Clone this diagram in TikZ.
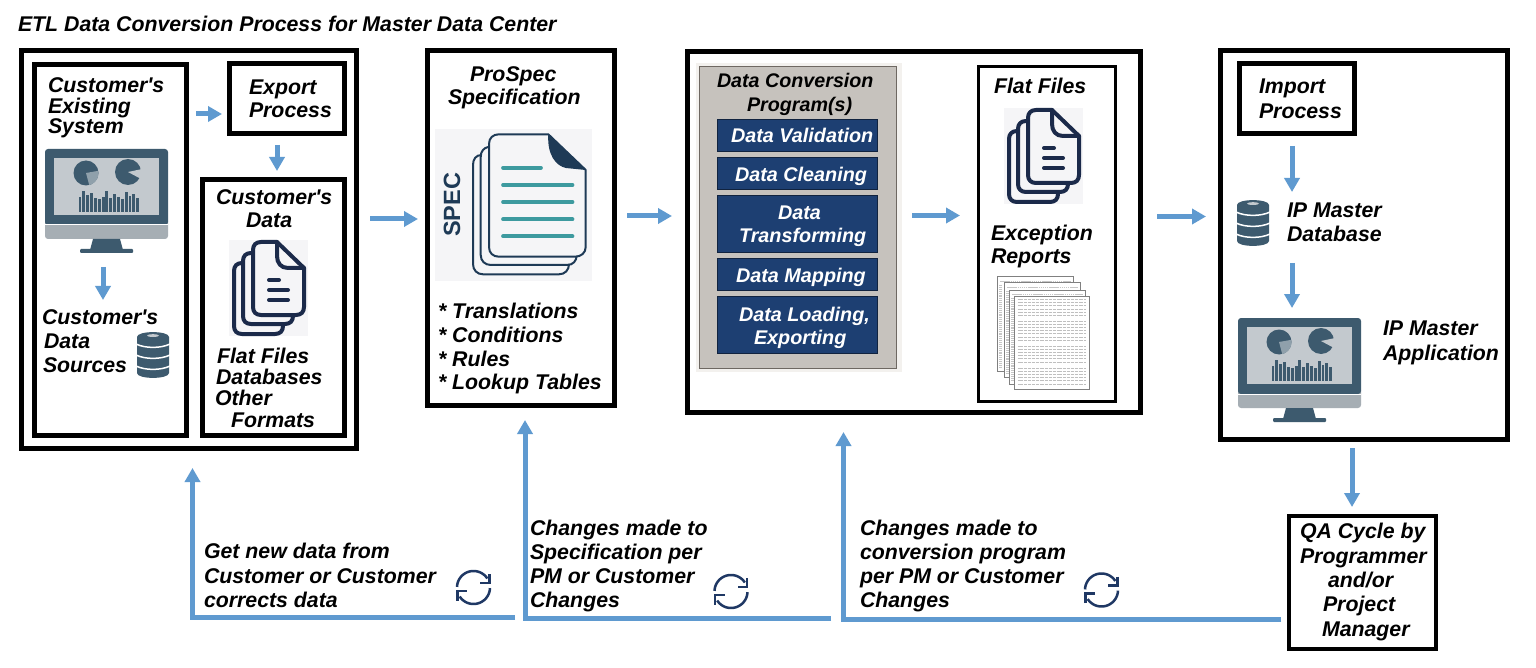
\documentclass[tikz,border=0pt]{standalone}
\usepackage{fontspec}
\setmainfont{Liberation Sans}[Ligatures=TeXOff]
\usetikzlibrary{arrows.meta,fit}
\definecolor{flow}{HTML}{5F9AD0}
\definecolor{slateicon}{HTML}{3D5A6E}
\definecolor{screenicon}{HTML}{C3C9CE}
\definecolor{bandicon}{HTML}{A6AEB4}
\definecolor{wedgeicon}{HTML}{8FA0AB}
\definecolor{navyicon}{HTML}{1B2A4A}
\definecolor{specnavy}{HTML}{1E3A56}
\definecolor{tealline}{HTML}{3D9A9F}
\definecolor{paleicon}{HTML}{F5F5F7}
\definecolor{panelgray}{HTML}{C6C2BD}
\definecolor{panelline}{HTML}{6E6862}
\definecolor{panelhalo}{HTML}{F3F1EE}
\definecolor{barblue}{HTML}{1D3F72}
\definecolor{barline}{HTML}{11233F}
\definecolor{refreshnavy}{HTML}{1F3864}
\newcommand{\lblfont}{\fontsize{21.3}{24}\selectfont\bfseries\itshape}
\newcommand{\barfont}{\fontsize{19.8}{24}\selectfont\bfseries\itshape}
\newcommand{\headfont}{\fontsize{19.7}{24}\selectfont\bfseries\itshape}
\newcommand{\wedgefill}[6]{\fill[#1] (#2,#3) -- plot[domain=#5:#6,samples=16] ({#2+#4*cos(\x)},{#3-#4*sin(\x)}) -- cycle;}
\newcommand{\lbl}[4]{\node[lbl] (#1) at (#2,#3) {#4};}
\newcommand{\wlbl}[4]{\node[lbl,text=white,font=\barfont] (#1) at (#2,#3) {#4};}
\newcommand{\bx}[6][]{\node[fit={(#3,#4)(#5,#6)},inner sep=0pt,outer sep=0pt,draw,#1] (#2) {};}
\tikzset{
  x=1pt,y=-1pt,
  lbl/.style={font=\lblfont,anchor=base west,inner sep=0pt,outer sep=0pt,yshift=-.8pt},
  heavybox/.style={line width=4.6pt,fill=white},
  lightbox/.style={line width=3.4pt,fill=white},
  barbox/.style={fill=barblue,draw=barline,line width=1.4pt},
  flowarrow/.style={draw=flow,line width=5pt,-{Triangle[length=14pt,width=15pt]}},
  monitoricon/.pic={
    \fill[bandicon,rounded corners=3pt] (0,70) rectangle (123,90);
    \fill[slateicon,rounded corners=3pt] (0,0) rectangle (123,76);
    \fill[white] (0,75.5) rectangle (123,76.5);
    \fill[screenicon] (9,9) rectangle (114,66);
    \fill[slateicon] (48,90) -- (75,90) -- (78,101) -- (45,101) -- cycle;
    \fill[slateicon,rounded corners=1pt] (35,100) rectangle (88,104);
    \fill[slateicon] (41,24) circle[radius=12.5];
    \wedgefill{wedgeicon}{41}{24}{12.5}{-75}{10}
    \fill[slateicon] (83,23) circle[radius=13];
    \wedgefill{screenicon}{83}{23}{14}{-28}{12}
    \foreach \i/\h in {0/15,1/21,2/17,3/19,4/14,5/13,6/15,7/21,8/14,9/18,10/15,11/13,12/20,13/16,14/18,15/14}
      \fill[slateicon] ({33.5+\i*3.85},63) rectangle ({36.4+\i*3.85},{63-\h});
  },
  dbicon/.pic={
    \fill[slateicon] (0,5) .. controls (0,-1.5) and (32,-1.5) .. (32,5) -- (32,41) .. controls (32,47.5) and (0,47.5) .. (0,41) -- cycle;
    \fill[screenicon] (16,3.6) ellipse[x radius=6,y radius=1.4];
    \foreach \y in {12,23,34}
      \draw[white,line width=1.5pt] (-1,\y) .. controls (8,{\y+4.5}) and (24,{\y+4.5}) .. (33,\y);
  },
  docicon/.pic={
    \fill[paleicon] (0,0) rectangle (79,96);
    \begin{scope}[navyicon,line width=4pt,line cap=round,line join=round]
    \draw (13,23) .. controls (8,23) and (5,26) .. (5,31) -- (5,86) .. controls (5,91) and (8,94) .. (13,94) -- (46,94) .. controls (51,94) and (54,91) .. (54,86);
    \draw (22,13) .. controls (17,13) and (14,16) .. (14,21) -- (14,76) .. controls (14,81) and (17,84) .. (22,84) -- (56,84) .. controls (61,84) and (64,81) .. (64,76);
    \draw (32,2) -- (48,2) -- (75,28) -- (75,67) .. controls (75,72) and (72,75) .. (67,75) -- (32,75) .. controls (27,75) and (24,72) .. (24,67) -- (24,10) .. controls (24,5) and (27,2) .. (32,2) -- cycle;
    \draw (48,2) -- (48,16) .. controls (48,23) and (52,28) .. (59,28) -- (75,28);
    \draw (40,40) -- (50,40) (40,50) -- (59,50) (40,60) -- (59,60);
    \end{scope}
  },
  refreshicon/.pic={
    \draw[refreshnavy,line width=2.5pt] plot[domain=178:33,samples=30] ({16.5*cos(\x)},{-16.5*sin(\x)});
    \draw[refreshnavy,line width=2.5pt] plot[domain=-2:-147,samples=30] ({16.5*cos(\x)},{-16.5*sin(\x)});
    \draw[refreshnavy,line width=2.5pt,line join=miter] (16,-13.5) -- (16,-4.5) -- (6.5,-4.5);
    \draw[refreshnavy,line width=2.5pt,line join=miter] (-16,13) -- (-16,3.5) -- (-6.5,3.5);
  },
}
\begin{document}
\begin{tikzpicture}
\useasboundingbox (0,0) rectangle (1536,668);
\fill[white] (0,0) rectangle (1536,668);

% title
\lbl{title}{18}{31}{ETL Data Conversion Process for Master Data Center}

% --- customer block
\bx[heavybox]{custouter}{21.3}{50.3}{356.7}{448.7}
\bx[heavybox]{custsys}{34.3}{64.3}{186.7}{435.7}
\bx[heavybox]{exportbox}{229.3}{63.3}{344.7}{133.7}
\bx[heavybox]{custdata}{202.3}{179.3}{344.7}{435.7}

\lbl{t1a}{48}{92}{Customer's}
\lbl{t1b}{48}{113}{Existing}
\lbl{t1c}{48}{133}{System}
\pic (mon1) at (45,149) {monitoricon};
\lbl{t2a}{42}{324}{Customer's}
\lbl{t2b}{44}{348}{Data}
\lbl{t2c}{43}{372}{Sources}
\pic (db1) at (137,332) {dbicon};
\lbl{t3a}{249}{94}{Export}
\lbl{t3b}{249}{117}{Process}
\lbl{t4a}{216}{204}{Customer's}
\lbl{t4b}{246}{227}{Data}
\pic (doc1) at (229,240) {docicon};
\lbl{t5a}{217}{363}{Flat Files}
\lbl{t5b}{216}{384}{Databases}
\lbl{t5c}{215}{405}{Other}
\lbl{t5d}{231}{427}{Formats}

% --- ProSpec block
\bx[heavybox]{prospec}{427.3}{50.3}{614.7}{405.7}
\lbl{t6a}{470}{81}{ProSpec}
\lbl{t6b}{448}{104}{Specification}
\fill[paleicon] (435,129) rectangle (592,281);
\begin{scope}[specnavy,line width=2pt,line join=round]
  \draw (481.7,155) .. controls (476,155) and (473,159) .. (473,165) -- (473,264) .. controls (473,270) and (477,274.3) .. (483,274.3) -- (559,274.3) .. controls (565,274.3) and (569,270) .. (569,264);
  \draw (488,147) .. controls (484,148) and (480.7,151) .. (480.7,157) -- (480.7,255) .. controls (480.7,261) and (485,265) .. (491,265) -- (567,265) .. controls (573,265) and (576.7,261) .. (576.7,255);
  \draw[fill=paleicon] (499,134.3) -- (548.3,134.3) -- (585.7,170) -- (585.7,247) .. controls (585.7,253) and (581,256.7) .. (575,256.7) -- (499,256.7) .. controls (493,256.7) and (489,253) .. (489,247) -- (489,144) .. controls (489,138) and (493,134.3) .. (499,134.3) -- cycle;
\end{scope}
\fill[specnavy] (548.3,134.3) -- (585.7,170) -- (566,168) .. controls (556,166) and (547,155) .. (548.3,134.3) -- cycle;
\draw[tealline,line width=3.7pt,line cap=round] (503,167.7) -- (541,167.7) (503,185) -- (572.5,185) (503,202) -- (572.5,202) (503,219.3) -- (572.5,219.3) (503,236.3) -- (572.5,236.3);
\node[rotate=90,text=specnavy,inner sep=0pt,font=\fontsize{23.5}{26}\selectfont\bfseries] (spec) at (452,205) {SPEC};
\lbl{t7a}{438}{318}{* Translations}
\lbl{t7b}{438}{342}{* Conditions}
\lbl{t7c}{438}{366}{* Rules}
\lbl{t7d}{438}{389}{* Lookup Tables}

% --- conversion block
\bx[heavybox]{convouter}{687.3}{51.3}{1140.7}{412.7}
\fill[panelhalo] (696,63) rectangle (902,372);
\bx[fill=panelgray,draw=panelline,line width=1.5pt]{panel}{699.5}{66.5}{896.5}{368.5}
\node[lbl,font=\headfont] (t8a) at (717,87) {Data Conversion};
\node[lbl,font=\headfont] (t8b) at (747,111) {Program(s)};
\bx[barbox]{bar1}{717.5}{119.5}{877.5}{151.5}
\bx[barbox]{bar2}{717.5}{157.5}{877.5}{189.5}
\bx[barbox]{bar3}{717.5}{195.5}{877.5}{252.5}
\bx[barbox]{bar4}{717.5}{258.5}{877.5}{290.5}
\bx[barbox]{bar5}{717.5}{296.5}{877.5}{353.5}
\wlbl{t9}{731}{142}{Data Validation}
\wlbl{t10}{735}{181}{Data Cleaning}
\wlbl{t11a}{778}{219}{Data}
\wlbl{t11b}{739}{242}{Transforming}
\wlbl{t12}{736}{282}{Data Mapping}
\wlbl{t13a}{739}{321}{Data Loading,}
\wlbl{t13b}{754}{344}{Exporting}

\bx[lightbox,line width=3pt]{filesbox}{978.5}{66.5}{1115.5}{401.5}
\lbl{t14}{994}{93}{Flat Files}
\pic (doc2) at (1004,108) {docicon};
\lbl{t15a}{991}{240}{Exception}
\lbl{t15b}{991}{263}{Reports}
% report pages
\foreach \px/\py/\pw/\ph in {997/277/76/94,1004/283/76/94,1009/290/76/94}{
  \draw[gray,line width=1pt,fill=white] (\px,\py) rectangle ({\px+\pw},{\py+\ph});
  \draw[gray!45,line width=.8pt,dash pattern=on 1.5pt off .6pt] ({\px+3},{\py+4}) -- ({\px+\pw-2},{\py+4});
  \draw[gray!45,line width=3pt,dash pattern=on .7pt off 1.2pt] ({\px+3},{\py+8}) -- ({\px+3},{\py+\ph-3});
}
\draw[gray,line width=1pt,fill=white] (1014,296) rectangle (1089,389);
\foreach \ly in {299.5,302.7,305.9,309.1,312.3,315.5,  321,324.2,327.4,330.6,333.8,337,340.2,  346,349.2,352.4,355.6,358.8,362,  368,371.2,374.4,377.6,380.8,384}
  \draw[gray!50,line width=.9pt,dash pattern=on 2pt off .5pt on 1pt off .4pt] (1017.5,\ly) -- (1086,\ly);

% --- IP master block
\bx[heavybox]{ipouter}{1220.3}{50.3}{1507.7}{439.7}
\bx[heavybox]{importbox}{1239.3}{63.3}{1354.7}{133.7}
\lbl{t16a}{1259}{93}{Import}
\lbl{t16b}{1259}{118}{Process}
\pic (db2) at (1237,200) {dbicon};
\lbl{t17a}{1287}{217}{IP Master}
\lbl{t17b}{1287}{241}{Database}
\pic (mon2) at (1238,318) {monitoricon};
\lbl{t18a}{1383}{335}{IP Master}
\lbl{t18b}{1383}{360}{Application}

% --- QA
\bx[lightbox,line width=3.6pt]{qabox}{1288.8}{515.8}{1436.2}{649.2}
\lbl{t19a}{1300}{538}{QA Cycle by}
\lbl{t19b}{1300}{563}{Programmer}
\lbl{t19c}{1328}{587}{and/or}
\lbl{t19d}{1323}{611}{Project}
\lbl{t19e}{1322}{636}{Manager}

% --- feedback labels
\lbl{t20a}{204}{558}{Get new data from}
\lbl{t20b}{204}{583}{Customer or Customer}
\lbl{t20c}{204}{607}{corrects data}
\lbl{t21a}{530}{535}{Changes made to}
\lbl{t21b}{530}{559}{Specification per}
\lbl{t21c}{530}{583}{PM or Customer}
\lbl{t21d}{530}{607}{Changes}
\lbl{t22a}{860}{535}{Changes made to}
\lbl{t22b}{860}{559}{conversion program}
\lbl{t22c}{860}{583}{per PM or Customer}
\lbl{t22d}{860}{607}{Changes}
\pic (ref1) at (473.5,587.5) {refreshicon};
\pic (ref2) at (731,591.5) {refreshicon};
\pic (ref3) at (1101.5,590) {refreshicon};

% --- connector ends
\coordinate (a1s) at (196,114);   \coordinate (a1e) at (222,114);
\coordinate (a2s) at (277,145);   \coordinate (a2e) at (277,171);
\coordinate (a3s) at (103,267);   \coordinate (a3e) at (103,300);
\coordinate (a4s) at (370,219);   \coordinate (a4e) at (418,219);
\coordinate (a5s) at (627,216);   \coordinate (a5e) at (672,216);
\coordinate (a6s) at (912,215.5); \coordinate (a6e) at (960,215.5);
\coordinate (a7s) at (1157,216.5);\coordinate (a7e) at (1206,216.5);
\coordinate (a8s) at (1292,146);  \coordinate (a8e) at (1292,192);
\coordinate (a9s) at (1292,263);  \coordinate (a9e) at (1292,308);
\coordinate (a10s) at (1352,448); \coordinate (a10e) at (1352,507);
\coordinate (f1s) at (515,617);   \coordinate (f1c) at (192.5,617);  \coordinate (f1e) at (192.5,468);
\coordinate (f2s) at (831,618.5); \coordinate (f2c) at (525,618.5);  \coordinate (f2e) at (525,420);
\coordinate (f3s) at (1281,619.5);\coordinate (f3c) at (843.5,619.5);\coordinate (f3e) at (843.5,432);

\foreach \n in {1,...,10} \draw[flowarrow] (a\n s) -- (a\n e);
\foreach \n in {1,2,3} \draw[flowarrow,line join=miter] (f\n s) -- (f\n c) -- (f\n e);
\end{tikzpicture}
\end{document}
